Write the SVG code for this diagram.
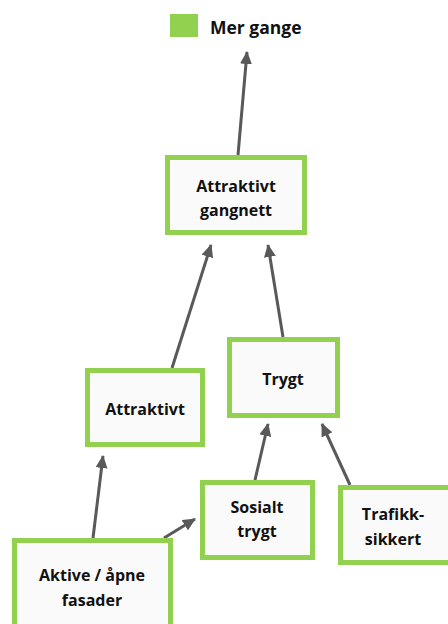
<svg xmlns="http://www.w3.org/2000/svg" width="448" height="624" viewBox="0 0 448 624">
<defs>
<style>
.box{fill:#fafafa;stroke:#92d050;stroke-width:5}
.t{font-family:"Open Sans","Liberation Sans",sans-serif;font-weight:bold;font-size:16px;fill:#111111;text-anchor:middle}
.c{stroke:#595959;stroke-width:3;fill:none;marker-end:url(#ah)}
</style>
<marker id="ah" markerUnits="userSpaceOnUse" markerWidth="14" markerHeight="12" refX="12" refY="6" orient="auto">
<path d="M0,0 L13,6 L0,12 Z" fill="#595959"/>
</marker>
</defs>
<rect width="448" height="624" fill="#ffffff"/>
<g id="legend">
<rect x="170" y="14" width="28" height="23" fill="#92d050"/>
<text x="210" y="34" class="t" style="text-anchor:start;font-size:17.5px">Mer gange</text>
</g>
<g id="connectors">
<line class="c" x1="238" y1="155" x2="247" y2="52"/>
<line class="c" x1="172" y1="368" x2="211" y2="245"/>
<line class="c" x1="283" y1="337" x2="268" y2="245"/>
<line class="c" x1="93" y1="538" x2="103" y2="456"/>
<line class="c" x1="164" y1="538" x2="195" y2="519"/>
<line class="c" x1="255" y1="480" x2="268" y2="424"/>
<line class="c" x1="350" y1="485" x2="322" y2="424"/>
</g>
<g id="gangnett">
<rect class="box" x="167.5" y="157.5" width="137" height="75"/>
<text class="t" x="236" y="192">Attraktivt</text>
<text class="t" x="236" y="216">gangnett</text>
</g>
<g id="attraktivt">
<rect class="box" x="87.5" y="370.5" width="115" height="74"/>
<text class="t" x="145" y="415">Attraktivt</text>
</g>
<g id="trygt">
<rect class="box" x="229.5" y="339.5" width="108" height="76"/>
<text class="t" x="283" y="385">Trygt</text>
</g>
<g id="sosialt">
<rect class="box" x="202.5" y="482.5" width="110" height="75"/>
<text class="t" x="257" y="513">Sosialt</text>
<text class="t" x="257" y="537">trygt</text>
</g>
<g id="trafikk">
<rect class="box" x="340.5" y="487.5" width="112" height="75"/>
<text class="t" x="393" y="520">Trafikk-</text>
<text class="t" x="393" y="545">sikkert</text>
</g>
<g id="aktive">
<rect class="box" x="14.5" y="540.5" width="156" height="90"/>
<text class="t" x="92" y="581">Aktive / åpne</text>
<text class="t" x="92" y="606">fasader</text>
</g>
</svg>
